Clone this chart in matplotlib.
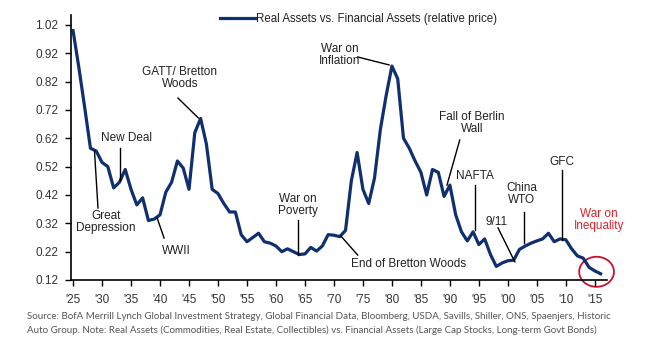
import matplotlib.pyplot as plt
from matplotlib.patches import Ellipse

# Real assets vs financial assets, relative price
years = list(range(1925, 2017))
rel_price = [
    1.00, 0.87, 0.73, 0.585, 0.575, 0.535, 0.52, 0.445, 0.465, 0.51,
    0.44, 0.385, 0.41, 0.33, 0.335, 0.35, 0.43, 0.465, 0.54, 0.515,
    0.44, 0.64, 0.69, 0.60, 0.44, 0.425, 0.39, 0.36, 0.36, 0.28,
    0.255, 0.27, 0.285, 0.255, 0.25, 0.24, 0.22, 0.23, 0.22, 0.21,
    0.212, 0.235, 0.222, 0.24, 0.28, 0.278, 0.273, 0.295, 0.47, 0.57,
    0.44, 0.39, 0.48, 0.65, 0.77, 0.875, 0.83, 0.62, 0.585, 0.54,
    0.50, 0.42, 0.51, 0.50, 0.415, 0.455, 0.35, 0.29, 0.258, 0.29,
    0.245, 0.265, 0.21, 0.168, 0.18, 0.188, 0.19, 0.228, 0.24, 0.25,
    0.258, 0.265, 0.285, 0.255, 0.265, 0.262, 0.23, 0.205, 0.197, 0.165,
    0.152, 0.142,
]

xticks = list(range(1925, 2016, 5))
xtick_labels = ["'%02d" % (y % 100) for y in xticks]
yticks = [0.12, 0.22, 0.32, 0.42, 0.52, 0.62, 0.72, 0.82, 0.92, 1.02]

# (text, text position, line start, line end)
events = [
    ("GATT/ Bretton\nWoods", (1943.4, 0.833), (1943.1, 0.762), (1946.6, 0.692)),
    ("New Deal", (1934.3, 0.621), (1933.1, 0.586), (1933.1, 0.473)),
    ("Great\nDepression", (1930.7, 0.325), (1928.7, 0.575), (1929.3, 0.374)),
    ("WWII", (1942.9, 0.222), (1939.5, 0.339), (1940.7, 0.268)),
    ("War on\nPoverty", (1963.8, 0.385), (1963.8, 0.332), (1963.8, 0.208)),
    ("War on\nInflation", (1971.0, 0.914), (1974.1, 0.907), (1979.5, 0.879)),
    ("Fall of Berlin\nWall", (1993.8, 0.674), (1991.7, 0.614), (1989.5, 0.455)),
    ("NAFTA", (1994.3, 0.487), (1994.3, 0.455), (1994.3, 0.296)),
    ("China\nWTO", (2002.4, 0.424), (2002.8, 0.36), (2002.8, 0.251)),
    ("9/11", (1998.1, 0.325), (1998.3, 0.304), (2001.2, 0.184)),
    ("GFC", (2009.3, 0.537), (2009.3, 0.508), (2009.3, 0.261)),
]

navy = "#0f2f6e"
plt.rcParams["font.family"] = ["Liberation Sans", "DejaVu Sans"]

fig = plt.figure(figsize=(6.51, 3.42), dpi=100)
ax = fig.add_axes([0.1091, 0.1813, 0.9324 - 0.1091, 0.956 - 0.1813])

ax.plot(years, rel_price, color=navy, lw=2.3, solid_joinstyle="round",
        label="Real Assets vs. Financial Assets (relative price)")

for label, txt, p0, p1 in events:
    ax.plot([p0[0], p1[0]], [p0[1], p1[1]], color="black", lw=1.0)
    ax.text(txt[0], txt[1], label, ha="center", va="center", fontsize=8.5,
            color="#222222", linespacing=1.0)

# End of Bretton Woods: text to the right of the leader line
ax.plot([1971.2, 1974.1], [0.275, 0.208], color="black", lw=1.0)
ax.text(1973.0, 0.176, "End of Bretton Woods", ha="left", va="center",
        fontsize=8.5, color="#222222")

ax.text(2015.7, 0.332, "War on\nInequality", ha="center", va="center",
        fontsize=8.5, color="#e0202a", linespacing=1.0)
ax.add_patch(Ellipse((2015.3, 0.149), 6.0, 0.106, fill=False,
                     edgecolor="#c8102e", lw=1.3, clip_on=False))

ax.set_xlim(1924.65, 2017.1)
ax.set_ylim(0.12, 1.055)
ax.set_xticks(xticks)
ax.set_xticklabels(xtick_labels)
ax.set_yticks(yticks)
ax.set_yticklabels(["%.2f" % v for v in yticks])
ax.tick_params(labelsize=8.5, labelcolor="#333333", length=4, width=1.0,
               direction="out")
ax.tick_params(axis="x", pad=6)
ax.tick_params(axis="y", pad=5)
for side in ["top", "right"]:
    ax.spines[side].set_visible(False)
for side in ["left", "bottom"]:
    ax.spines[side].set_linewidth(1.2)

fig.legend(loc="center", bbox_to_anchor=(0.551, 0.944), frameon=False,
           fontsize=8.3, handlelength=3.0, handletextpad=0.1,
           labelcolor="#222222")

fig.text(27 / 651, 1 - 312 / 342,
         "Source: BofA Merrill Lynch Global Investment Strategy, Global Financial Data, "
         "Bloomberg, USDA, Savills, Shiller, ONS, Spaenjers, Historic\n"
         "Auto Group. Note: Real Assets (Commodities, Real Estate, Collectibles) vs. "
         "Financial Assets (Large Cap Stocks, Long-term Govt Bonds)",
         ha="left", va="top", fontsize=7.0, color="#555555",
         family=["Lato", "DejaVu Sans"], linespacing=1.65)

fig.savefig("out.png", dpi=100)
plt.close(fig)
